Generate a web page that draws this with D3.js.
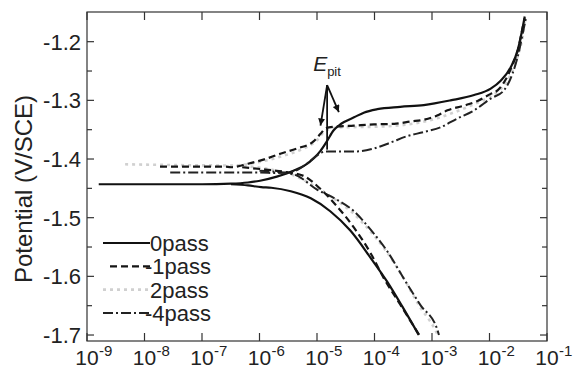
<!DOCTYPE html>
<html lang="en">
<head>
<meta charset="utf-8"/>
<title>Polarization curves</title>
<script src="https://d3js.org/d3.v7.min.js"></script>
<style>
body { margin: 0; background: #fff; }
text, tspan { font-family: "Liberation Sans", Arial, sans-serif; fill: #222; }
.frame { fill: none; stroke: #333; stroke-width: 1.2; }
.tick { stroke: #333; stroke-width: 1.2; }
.curve { fill: none; stroke-linejoin: round; }
.pass0 { stroke: #111; stroke-width: 2.2; }
.pass1 { stroke: #151515; stroke-width: 2.2; stroke-dasharray: 7, 4; }
.pass2 { stroke: #d0d0d0; stroke-width: 2.6; stroke-dasharray: 3, 4; }
.pass4 { stroke: #222; stroke-width: 2; stroke-dasharray: 10, 3, 2, 3; }
</style>
</head>
<body>
<div id="chart"></div>
<script>
// current density (A/cm2) vs potential (V/SCE)
// each pass split in a cathodic branch and an anodic branch (left end -> right)
var cathodic0 = [[3.2e-7,-1.443],[6.3e-7,-1.445],[1.07e-6,-1.448],[1.6e-6,-1.449],[3.5e-6,-1.455],
  [7.8e-6,-1.467],[1.7e-5,-1.489],[3.8e-5,-1.522],[8.5e-5,-1.568],[1.66e-4,-1.609],[3.2e-4,-1.655],[5.9e-4,-1.700]];
var anodic0 = [[1.6e-9,-1.443],[1e-7,-1.443],[3.2e-7,-1.442],[6.3e-7,-1.440],[1.02e-6,-1.437],[2e-6,-1.430],
  [3.9e-6,-1.420],[6.3e-6,-1.410],[8.9e-6,-1.398],[1.15e-5,-1.386],[1.5e-5,-1.369],[1.95e-5,-1.351],
  [2.4e-5,-1.343],[2.95e-5,-1.337],[4.4e-5,-1.329],[6.5e-5,-1.321],[1.12e-4,-1.315],[2.8e-4,-1.311],
  [7.2e-4,-1.308],[2.1e-3,-1.300],[5.4e-3,-1.291],[1.05e-2,-1.280],[1.58e-2,-1.266],[2.35e-2,-1.243],
  [3.1e-2,-1.214],[3.6e-2,-1.186],[4.1e-2,-1.157]];

var cathodic1 = [[5e-7,-1.414],[1.26e-6,-1.418],[3.2e-6,-1.423],[5.9e-6,-1.429],[1.15e-5,-1.451],
  [2.2e-5,-1.480],[4.4e-5,-1.517],[8.5e-5,-1.560],[1.45e-4,-1.603],[2.8e-4,-1.648],[6e-4,-1.700]];
var anodic1 = [[1.86e-8,-1.413],[2.5e-7,-1.413],[3.2e-7,-1.414],[6.3e-7,-1.408],[1.17e-6,-1.401],
  [2.3e-6,-1.391],[4.5e-6,-1.382],[8.7e-6,-1.370],[1.15e-5,-1.357],[1.4e-5,-1.348],[2e-5,-1.345],
  [4.4e-5,-1.343],[9.8e-5,-1.341],[2.2e-4,-1.340],[4.3e-4,-1.336],[7.2e-4,-1.333],[1.23e-3,-1.326],
  [1.86e-3,-1.317],[3.6e-3,-1.309],[6.2e-3,-1.301],[1.05e-2,-1.289],[1.38e-2,-1.283],[1.9e-2,-1.265],
  [2.5e-2,-1.240],[3.2e-2,-1.210],[3.7e-2,-1.180],[4.1e-2,-1.160]];

var cathodic2 = [[4e-7,-1.411],[1.6e-6,-1.418],[4e-6,-1.428],[7.9e-6,-1.443],[2e-5,-1.468],[4e-5,-1.490],
  [7.9e-5,-1.520],[1.6e-4,-1.557],[3.2e-4,-1.603],[6e-4,-1.650],[1.12e-3,-1.690],[1.26e-3,-1.700]];
var anodic2 = [[4.6e-9,-1.409],[3.2e-7,-1.411],[1e-6,-1.405],[2.5e-6,-1.395],[5e-6,-1.385],[1e-5,-1.368],
  [1.4e-5,-1.352],[2.5e-5,-1.346],[1e-4,-1.345],[3.2e-4,-1.342],[1e-3,-1.333],[2.5e-3,-1.320],
  [5e-3,-1.308],[1e-2,-1.294],[1.6e-2,-1.280],[2.5e-2,-1.250],[3.2e-2,-1.220],[3.8e-2,-1.190],[4.2e-2,-1.160]];

var cathodic4 = [[1e-6,-1.420],[3.9e-6,-1.426],[1e-5,-1.452],[2.2e-5,-1.469],[4.4e-5,-1.489],
  [8.5e-5,-1.520],[1.66e-4,-1.557],[3.2e-4,-1.603],[6.3e-4,-1.649],[1.23e-3,-1.690],[1.32e-3,-1.700]];
var anodic4 = [[2.8e-8,-1.423],[1e-6,-1.423],[2e-6,-1.424],[3.9e-6,-1.421],[6.3e-6,-1.410],[8.9e-6,-1.398],
  [1.15e-5,-1.390],[1.4e-5,-1.387],[2.5e-5,-1.387],[5e-5,-1.387],[9.8e-5,-1.382],[1.9e-4,-1.372],
  [3.7e-4,-1.361],[7.2e-4,-1.354],[1.4e-3,-1.346],[2.75e-3,-1.331],[5.4e-3,-1.317],[1.05e-2,-1.297],
  [1.78e-2,-1.283],[2.5e-2,-1.255],[3.2e-2,-1.220],[3.8e-2,-1.185],[4.3e-2,-1.160]];

var seriesNames = ["0pass", "-1pass", "2pass", "-4pass"];
var seriesClass = ["pass0", "pass1", "pass2", "pass4"];

var xTicks = [1e-9, 1e-8, 1e-7, 1e-6, 1e-5, 1e-4, 1e-3, 1e-2, 1e-1];
var xTickExp = ["-9", "-8", "-7", "-6", "-5", "-4", "-3", "-2", "-1"];
var yTicks = [-1.2, -1.3, -1.4, -1.5, -1.6, -1.7];
var yMinorTicks = [-1.25, -1.35, -1.45, -1.55, -1.65];

// E_pit arrows: start point and tips, in data units
var epitStart = [1.5e-5, -1.274];
var epitTips = [[1.15e-5, -1.343], [2.4e-5, -1.320]];
var epitLineEnd = [1.5e-5, -1.384];

var w = 585, h = 371;
var padL = 87, padR = 547, padT = 12, padB = 341;

var svg = d3.select("#chart").append("svg")
  .attr("width", w).attr("height", h);

var xScale = d3.scaleLog().domain([1e-9, 1e-1]).range([padL, padR]);
var yScale = d3.scaleLinear().domain([-1.7102, -1.1494]).range([padB, padT]);

// frame
svg.append("rect").attr("class", "frame")
  .attr("x", padL).attr("y", padT)
  .attr("width", padR - padL).attr("height", padB - padT);

// x ticks (inward, top and bottom)
xTicks.forEach(function(t, i) {
  var px = xScale(t);
  svg.append("line").attr("class", "tick")
    .attr("x1", px).attr("x2", px).attr("y1", padB).attr("y2", padB - 8);
  svg.append("line").attr("class", "tick")
    .attr("x1", px).attr("x2", px).attr("y1", padT).attr("y2", padT + 8);
  svg.append("text").attr("x", px).attr("y", 365)
    .attr("text-anchor", "middle").style("font-size", "21px").text("10");
  svg.append("text").attr("x", px + 12).attr("y", 356)
    .style("font-size", "15px").text(xTickExp[i]);
});

// y ticks (inward, left and right)
yTicks.forEach(function(t) {
  var py = yScale(t);
  svg.append("line").attr("class", "tick")
    .attr("x1", padL).attr("x2", padL + 7).attr("y1", py).attr("y2", py);
  svg.append("line").attr("class", "tick")
    .attr("x1", padR).attr("x2", padR - 7).attr("y1", py).attr("y2", py);
  svg.append("text").attr("x", 81).attr("y", py).attr("dy", "0.36em")
    .attr("text-anchor", "end").style("font-size", "22px").text(t.toFixed(1));
});
yMinorTicks.forEach(function(t) {
  var py = yScale(t);
  svg.append("line").attr("class", "tick")
    .attr("x1", padL).attr("x2", padL + 5).attr("y1", py).attr("y2", py);
  svg.append("line").attr("class", "tick")
    .attr("x1", padR).attr("x2", padR - 5).attr("y1", py).attr("y2", py);
});

// axis title
svg.append("text")
  .attr("transform", "translate(32,189) rotate(-90)")
  .attr("text-anchor", "middle").style("font-size", "24px")
  .text("Potential (V/SCE)");

// curves
var line = d3.line()
  .x(function(d) { return xScale(d[0]); })
  .y(function(d) { return yScale(d[1]); })
  .curve(d3.curveMonotoneX);

var branches = [[cathodic2, anodic2], [cathodic0, anodic0], [cathodic4, anodic4], [cathodic1, anodic1]];
var branchClass = ["pass2", "pass0", "pass4", "pass1"];
branches.forEach(function(b, i) {
  b.forEach(function(pts) {
    svg.append("path").datum(pts)
      .attr("class", "curve " + branchClass[i])
      .attr("d", line);
  });
});

// E_pit annotation
var defs = svg.append("defs");
defs.append("marker").attr("id", "arrow")
  .attr("viewBox", "0 0 10 10").attr("refX", 10).attr("refY", 5)
  .attr("markerWidth", 9).attr("markerHeight", 7)
  .attr("markerUnits", "userSpaceOnUse").attr("orient", "auto")
  .append("path").attr("d", "M0,0L10,5L0,10z").attr("fill", "#111");

epitTips.forEach(function(t) {
  svg.append("line")
    .attr("x1", xScale(epitStart[0])).attr("y1", yScale(epitStart[1]))
    .attr("x2", xScale(t[0])).attr("y2", yScale(t[1]))
    .attr("stroke", "#111").attr("stroke-width", 1.8)
    .attr("marker-end", "url(#arrow)");
});
svg.append("line")
  .attr("x1", xScale(epitStart[0])).attr("y1", yScale(epitStart[1]))
  .attr("x2", xScale(epitLineEnd[0])).attr("y2", yScale(epitLineEnd[1]))
  .attr("stroke", "#111").attr("stroke-width", 1.8);

var epit = svg.append("text")
  .attr("x", xScale(epitStart[0]) - 14).attr("y", yScale(epitStart[1]) - 14);
epit.append("tspan").style("font-size", "21px").style("font-style", "italic").text("E");
epit.append("tspan").attr("dy", 5).style("font-size", "13px").text("pit");

// legend
seriesNames.forEach(function(name, i) {
  var ly = 243 + i * 23.3;
  svg.append("line")
    .attr("class", "curve " + seriesClass[i])
    .attr("x1", i === 1 ? 110 : 103).attr("x2", 150)
    .attr("y1", ly).attr("y2", ly);
  svg.append("text").attr("x", name.charAt(0) === "-" ? 145 : 150).attr("y", ly + 8)
    .style("font-size", "22px").text(name);
});
</script>
</body>
</html>
